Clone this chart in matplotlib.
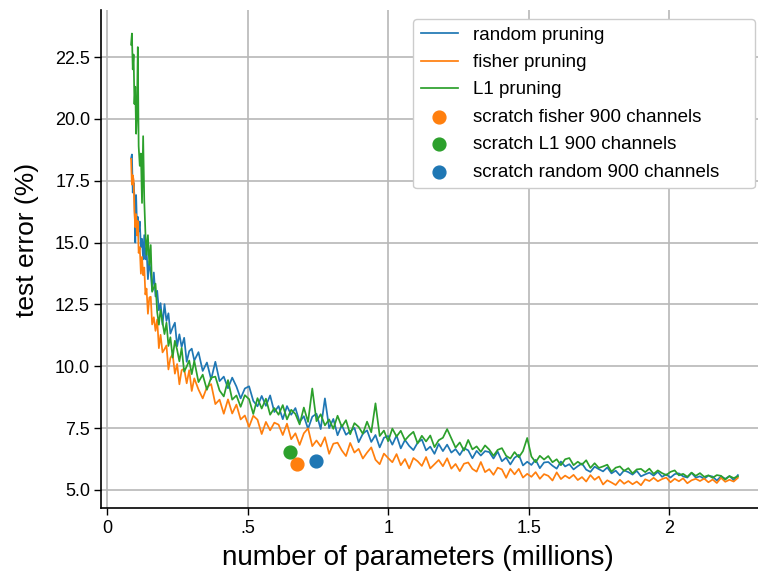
import matplotlib
matplotlib.use("Agg")
import matplotlib.pyplot as plt

plt.rcParams["font.family"] = ["Liberation Sans", "DejaVu Sans"]

# number of parameters (millions) after each pruning step
params_m = [
    0.085, 0.088, 0.091, 0.094, 0.097, 0.100, 0.103, 0.106, 0.109, 0.112,
    0.116, 0.120, 0.124, 0.128, 0.132, 0.136, 0.140, 0.145, 0.150, 0.155,
    0.160, 0.166, 0.172, 0.178, 0.184, 0.190, 0.197, 0.204, 0.211, 0.218,
    0.225, 0.233, 0.241, 0.249, 0.257, 0.265, 0.274, 0.283, 0.292, 0.301,
    0.310, 0.325, 0.340, 0.355, 0.370, 0.385, 0.400, 0.415, 0.430, 0.445,
    0.460, 0.475, 0.490, 0.505, 0.520, 0.535, 0.550, 0.565, 0.580, 0.595,
    0.610, 0.625, 0.640, 0.655, 0.670, 0.685, 0.700, 0.715, 0.730, 0.745,
    0.760, 0.775, 0.790, 0.805, 0.820, 0.835, 0.850, 0.865, 0.880, 0.895,
    0.910, 0.925, 0.940, 0.955, 0.970, 0.985, 1.000, 1.015, 1.030, 1.045,
    1.060, 1.075, 1.090, 1.105, 1.120, 1.135, 1.150, 1.165, 1.180, 1.195,
    1.210, 1.225, 1.240, 1.255, 1.270, 1.285, 1.300, 1.315, 1.330, 1.345,
    1.360, 1.375, 1.390, 1.405, 1.420, 1.435, 1.450, 1.465, 1.480, 1.495,
    1.510, 1.525, 1.540, 1.555, 1.570, 1.585, 1.600, 1.615, 1.630, 1.645,
    1.660, 1.675, 1.690, 1.705, 1.720, 1.735, 1.750, 1.765, 1.780, 1.795,
    1.810, 1.825, 1.840, 1.855, 1.870, 1.885, 1.900, 1.915, 1.930, 1.945,
    1.960, 1.975, 1.990, 2.005, 2.020, 2.035, 2.050, 2.065, 2.080, 2.095,
    2.110, 2.125, 2.140, 2.155, 2.170, 2.185, 2.200, 2.215, 2.230, 2.245,
]

# test error (%) for each pruning criterion
err_random = [
    18.4, 18.56, 17.02, 17.42, 16.88, 15.0, 16.92, 15.68, 16.04, 15.44,
    15.85, 14.82, 15.15, 14.32, 15.3, 14.32, 14.78, 13.52, 14.25, 13.78,
    13.06, 13.79, 12.82, 13.05, 12.26, 12.55, 11.68, 12.51, 11.83, 12.14,
    11.32, 11.56, 11.76, 10.81, 11.29, 10.78, 11.15, 10.18, 10.61, 10.71,
    10.23, 10.57, 9.81, 10.15, 9.47, 10.18, 9.4, 9.58, 9.11, 9.54,
    9.18, 8.7, 9.1, 9.19, 8.6, 8.38, 8.8, 8.4, 8.82, 8.15,
    8.39, 7.86, 8.39, 8.04, 8.31, 7.75, 7.98, 7.47, 7.96, 8.08,
    7.46, 8.7, 7.5, 7.87, 7.21, 7.62, 7.23, 7.37, 7.51, 6.93,
    7.27, 7.41, 6.94, 7.22, 6.72, 7.11, 7.18, 6.83, 7.2, 6.68,
    7.02, 6.78, 6.61, 6.91, 7.04, 6.6, 6.75, 6.46, 6.86, 6.57,
    6.83, 6.51, 6.65, 6.41, 6.69, 6.6, 6.28, 6.58, 6.39, 6.57,
    6.53, 6.27, 6.55, 6.16, 6.31, 6.03, 6.3, 6.42, 5.99, 6.14,
    6.01, 6.22, 5.88, 6.11, 6.13, 5.98, 5.86, 6.15, 5.95, 6.04,
    5.83, 5.96, 6.07, 5.82, 5.73, 5.94, 5.84, 5.75, 5.91, 5.67,
    5.78, 5.59, 5.79, 5.72, 5.62, 5.77, 5.55, 5.63, 5.7, 5.58,
    5.73, 5.53, 5.63, 5.5, 5.64, 5.67, 5.55, 5.5, 5.69, 5.5,
    5.55, 5.45, 5.58, 5.54, 5.38, 5.55, 5.45, 5.56, 5.4, 5.6,
]

err_fisher = [
    18.38, 17.34, 17.72, 17.54, 16.26, 15.62, 16.15, 15.29, 15.87, 14.58,
    14.81, 13.74, 14.42, 13.68, 13.99, 12.9, 13.14, 12.12, 12.78, 12.81,
    11.69, 11.98, 11.43, 11.89, 10.73, 11.27, 10.56, 10.69, 10.84, 9.87,
    10.33, 10.49, 9.7, 10.09, 9.27, 9.84, 9.9, 9.31, 9.84, 9.0,
    9.51, 9.06, 8.7, 9.15, 9.28, 8.47, 8.65, 8.08, 8.66, 8.09,
    8.45, 7.85, 8.01, 7.55, 8.0, 7.84, 7.26, 7.75, 7.41, 7.72,
    7.64, 7.22, 7.68, 7.05, 7.29, 6.82, 7.29, 7.49, 6.77, 7.0,
    6.76, 7.13, 6.46, 6.87, 6.91, 6.6, 6.37, 6.9, 6.51, 6.66,
    6.27, 6.51, 6.72, 6.22, 6.04, 6.47, 6.29, 6.12, 6.45, 6.0,
    6.25, 5.87, 6.29, 6.16, 5.97, 6.33, 5.87, 6.04, 6.21, 5.96,
    6.28, 5.86, 6.05, 5.76, 6.06, 6.11, 5.85, 5.74, 6.13, 5.72,
    5.84, 5.61, 5.9, 5.83, 5.49, 5.85, 5.63, 5.85, 5.5, 5.65,
    5.53, 5.72, 5.45, 5.64, 5.57, 5.38, 5.71, 5.44, 5.58, 5.47,
    5.61, 5.4, 5.52, 5.34, 5.6, 5.41, 5.54, 5.22, 5.39, 5.3,
    5.2, 5.41, 5.25, 5.36, 5.23, 5.34, 5.19, 5.43, 5.36, 5.49,
    5.35, 5.44, 5.5, 5.31, 5.45, 5.35, 5.47, 5.27, 5.39, 5.45,
    5.36, 5.46, 5.31, 5.42, 5.28, 5.49, 5.33, 5.41, 5.34, 5.49,
]

err_l1 = [
    23.0, 23.45, 22.0, 22.6, 20.6, 21.3, 19.4, 20.2, 22.9, 18.9,
    18.1, 18.6, 16.6, 19.3, 16.7, 15.4, 14.5, 15.3, 14.1, 14.9,
    13.01, 13.18, 13.34, 12.19, 11.68, 12.28, 11.77, 11.3, 11.76, 10.82,
    11.17, 10.35, 11.03, 10.66, 10.2, 10.74, 9.78, 9.99, 10.23, 9.68,
    10.22, 9.36, 9.66, 9.05, 9.54, 9.58, 9.02, 8.78, 9.44, 8.65,
    8.82, 8.36, 8.83, 8.67, 8.07, 8.71, 8.29, 8.69, 8.04, 8.31,
    8.04, 8.43, 7.85, 8.24, 8.07, 7.65, 8.33, 7.75, 9.1, 7.78,
    8.06, 7.61, 7.85, 7.47, 8.0, 7.55, 7.82, 7.25, 7.7, 7.55,
    7.27, 7.76, 7.33, 8.5, 7.18, 7.4, 6.97, 7.48, 7.16, 7.39,
    7.01, 7.2, 7.35, 6.88, 7.19, 6.96, 7.2, 6.73, 7.01, 7.11,
    7.46, 7.09, 6.71, 6.92, 6.59, 7.02, 6.64, 6.76, 6.54, 6.8,
    6.63, 6.38, 6.62, 6.69, 6.38, 6.27, 6.53, 6.32, 6.57, 7.1,
    6.35, 6.12, 6.38, 6.23, 6.37, 6.12, 6.24, 6.0, 6.24, 6.29,
    6.0, 6.14, 6.02, 6.2, 5.89, 6.08, 5.89, 5.95, 6.02, 5.74,
    5.9, 5.95, 5.77, 5.88, 5.67, 5.83, 5.85, 5.72, 5.86, 5.65,
    5.79, 5.68, 5.6, 5.73, 5.79, 5.59, 5.65, 5.53, 5.7, 5.57,
    5.68, 5.53, 5.59, 5.49, 5.6, 5.57, 5.42, 5.56, 5.48, 5.55,
]

# networks of 900 channels trained from scratch
scratch_labels = ["scratch fisher 900 channels", "scratch L1 900 channels",
                  "scratch random 900 channels"]
scratch_params = [0.674, 0.649, 0.742]
scratch_err = [6.04, 6.53, 6.16]

x_ticks = [0, 0.5, 1, 1.5, 2]
x_tick_labels = ["0", ".5", "1", "1.5", "2"]
y_ticks = [5.0, 7.5, 10.0, 12.5, 15.0, 17.5, 20.0, 22.5]

blue, orange, green = "#1f77b4", "#ff7f0e", "#2ca02c"

W, H = 758, 573
fig = plt.figure(figsize=(W / 100, H / 100), dpi=100)
ax = fig.add_axes([101 / W, 1 - 508 / H, 665 / W, 498 / H])

ax.plot(params_m, err_random, color=blue, lw=1.25, label="random pruning")
ax.plot(params_m, err_fisher, color=orange, lw=1.25, label="fisher pruning")
ax.plot(params_m, err_l1, color=green, lw=1.25, label="L1 pruning")

for px, py, lab, c in zip(scratch_params, scratch_err, scratch_labels,
                          [orange, green, blue]):
    ax.scatter([px], [py], s=85, color=c, label=lab, zorder=3)

ax.set_xlim(-0.022, 2.345)
ax.set_ylim(4.27, 24.4)
ax.set_xticks(x_ticks)
ax.set_xticklabels(x_tick_labels)
ax.set_yticks(y_ticks)
ax.set_yticklabels([f"{v:.1f}" for v in y_ticks])

ax.grid(True, color="#b8b8b8", lw=1.2)
ax.set_axisbelow(True)
for side in ("top", "right"):
    ax.spines[side].set_visible(False)
for side in ("left", "bottom"):
    ax.spines[side].set_color("black")
    ax.spines[side].set_linewidth(1.2)
ax.tick_params(axis="both", labelsize=13, length=5, width=1.0,
               direction="out", colors="black")
ax.tick_params(axis="y", pad=3)

ax.set_xlabel("number of parameters (millions)", fontsize=20)
ax.xaxis.set_label_coords(0.477, -0.075)
ax.set_ylabel("test error (%)", fontsize=19)
ax.yaxis.set_label_coords(-0.093, 0.538)

leg = ax.legend(loc="upper left", fontsize=13.5, labelspacing=0.55,
                framealpha=1.0, edgecolor="#cccccc", mode="expand",
                borderaxespad=0.0, handlelength=2.0,
                bbox_to_anchor=(413 / W, 1 - 19 / H, 342 / W, 0.0),
                bbox_transform=fig.transFigure)

fig.savefig("out.png", dpi=100)
